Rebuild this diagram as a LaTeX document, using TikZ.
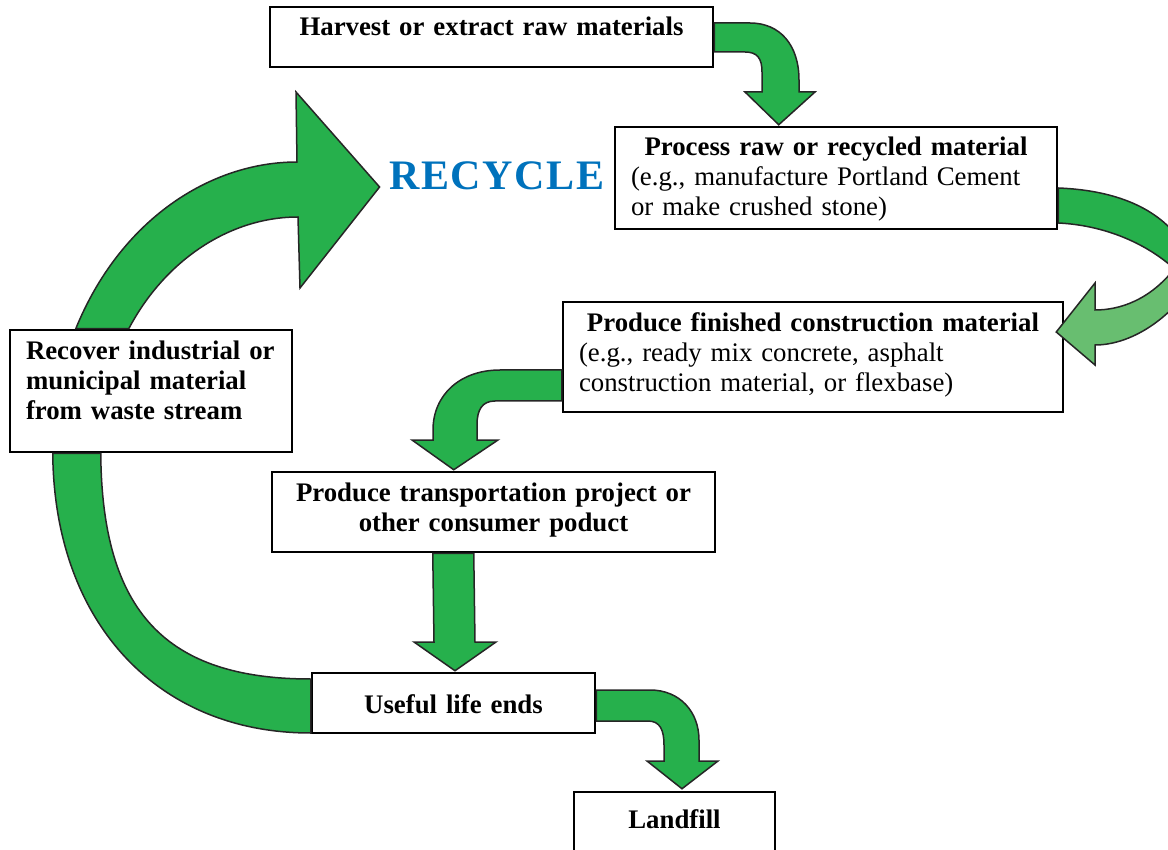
\documentclass[tikz,border=0pt]{standalone}
\usepackage{fontspec}
\setmainfont{Liberation Serif}
\usepackage{tikz}
\usetikzlibrary{calc}
\definecolor{flowgreen}{RGB}{38,176,76}
\definecolor{fadegreen}{RGB}{104,190,112}
\definecolor{recycleblue}{RGB}{0,114,188}
\tikzstyle{stepbox}=[%
  draw,
  line width=2.5pt,
  fill=white,
  anchor=base,
  inner xsep=16pt,
  inner ysep=0pt,
  font=\fontsize{26.8}{30}\selectfont\bfseries
]
\tikzstyle{flow}=[%
  fill=flowgreen,
  draw=black!85,
  line width=1.5pt,
  line join=miter
]

\begin{document}
\begin{tikzpicture}[x=1pt, y=-1pt]
      \useasboundingbox (0,0) rectangle (1168,850);
      \clip (0,0) rectangle (1168,850);
      % boxes, placed at the baseline of their first line
      \node[stepbox, text width=411pt, align=center, text height=29pt, text depth=31pt]
        (harvest) at (491.5,36) {Harvest or extract raw materials};
      \node[stepbox, text width=410pt, align=left, text height=29pt, text depth=73pt]
        (process) at (836,156) {\makebox[\linewidth]{Process raw or recycled material}\\
        \mdseries (e.g., manufacture Portland Cement\\ or make crushed stone)};
      \node[stepbox, text width=468pt, align=left, text height=30pt, text depth=80pt]
        (finished) at (813,332) {\makebox[\linewidth]{Produce finished construction material}\\
        \mdseries (e.g., ready mix concrete, asphalt\\ construction material, or flexbase)};
      \node[stepbox, text width=411pt, align=center, text height=29pt, text depth=51pt]
        (transport) at (493.5,501) {Produce transportation project or\\ other consumer poduct};
      \node[stepbox, text width=251pt, align=center, text height=40pt, text depth=20pt]
        (useful) at (453.5,713) {Useful life ends};
      \node[stepbox, text width=169pt, align=center, text height=36pt, text depth=50pt]
        (landfill) at (674.5,828) {Landfill};
      \node[stepbox, text width=250pt, align=left, text height=30pt, text depth=92pt]
        (recover) at (151,360) {Recover industrial or\\ municipal material\\ from waste stream};
      \node[text=recycleblue, font=\fontsize{42}{42}\selectfont\bfseries\addfontfeatures{LetterSpace=4}, inner sep=4pt]
        (recycle) at (497,176) {RECYCLE};

      % block arrows
      \filldraw[flow] ($(harvest.east)+(0,-14)$) -- (750,23)
        .. controls (780,23) and (799,45) .. (799,80) -- (799,92) -- (815,92)
        -- ($(process.north west)+(165,-1)$) -- (745,92) -- (762,92) -- (762,72)
        .. controls (762,58) and (757,52) .. (745,52) -- ($(harvest.east)+(0,15)$) -- cycle;
      \filldraw[flow] ($(process.east)+(0,10)$)
        .. controls (1110,190) and (1155,205) .. (1180,240) -- (1170,265)
        .. controls (1140,240) and (1100,225) .. ($(process.east)+(0,45)$) -- cycle;
      \filldraw[flow, fill=fadegreen] (1175,268) .. controls (1150,300) and (1120,310) .. (1095,310)
        -- (1095,283) -- ($(finished.east)+(-8,-25)$) -- (1095,365) -- (1095,345)
        .. controls (1130,345) and (1170,320) .. (1195,280) -- cycle;
      \filldraw[flow] ($(finished.west)+(0,13)$) -- (500,370)
        .. controls (460,370) and (433,395) .. (433,430) -- (433,440) -- (412,440)
        -- ($(transport.north west)+(183,-1)$) -- (498,440) -- (477,440) -- (477,425)
        .. controls (477,410) and (482,401) .. (495,401) -- ($(finished.west)+(0,44)$) -- cycle;
      \filldraw[flow] ($(transport.south west)+(162,0)$) -- (434,642) -- (414,642)
        -- ($(useful.north)+(1.5,-1)$) -- (496,642) -- (475,642)
        -- ($(transport.south west)+(203,0)$) -- cycle;
      \filldraw[flow] ($(useful.east)+(0,-13)$) -- (650,690)
        .. controls (680,690) and (699,712) .. (699,740) -- (699,761) -- (718,761)
        -- ($(landfill.north)+(7.5,-2)$) -- (647,761) -- (664,761) -- (664,745)
        .. controls (664,730) and (660,721) .. (648,721) -- ($(useful.east)+(0,18)$) -- cycle;
      \filldraw[flow] ($(recover.north west)+(67,0)$)
        .. controls (120,220) and (210,162) .. (297,162) -- (296,92)
        -- ($(recycle.west)+(-5.5,11)$) -- (300,288) -- (298,217)
        .. controls (230,217) and (165,260) .. ($(recover.north west)+(120,0)$) -- cycle;
      \filldraw[flow] ($(recover.south west)+(44,0)$)
        .. controls (54,622) and (157,733) .. ($(useful.west)+(0,30)$)
        -- ($(useful.west)+(0,-24)$)
        .. controls (165,679) and (102,611) .. ($(recover.south west)+(92,0)$) -- cycle;
    \end{tikzpicture}
\end{document}
